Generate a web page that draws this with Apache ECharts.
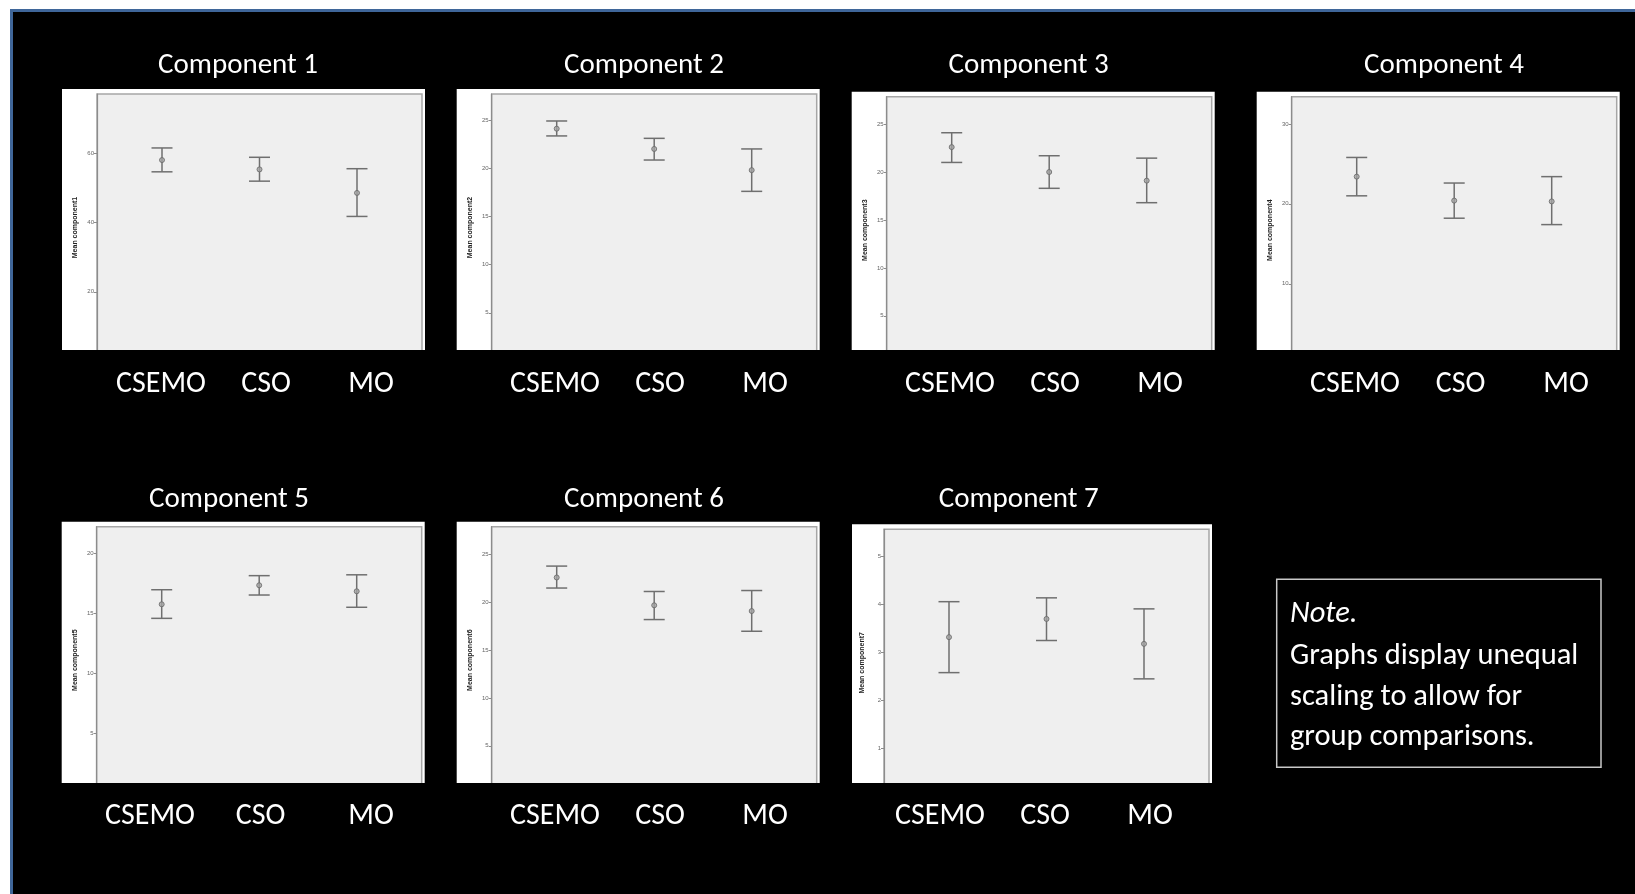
<!DOCTYPE html>
<html>
<head>
<meta charset="utf-8">
<title>Component means by group</title>
<script src="https://cdn.jsdelivr.net/npm/echarts@6.0.0/dist/echarts.min.js"></script>
<style>
  html, body { margin: 0; padding: 0; background: #ffffff; }
  #chart { width: 1635px; height: 894px; }
</style>
</head>
<body>
<div id="chart"></div>
<script>
// ---- data ----
const categories = ['CSEMO', 'CSO', 'MO'];
const componentTitles = ['Component 1', 'Component 2', 'Component 3', 'Component 4',
                         'Component 5', 'Component 6', 'Component 7'];
const axisNames = ['Mean component1', 'Mean component2', 'Mean component3', 'Mean component4',
                   'Mean component5', 'Mean component6', 'Mean component7'];

// group means and 95% CI bounds, one array per component (order: CSEMO, CSO, MO)
const means1 = [58.1, 55.4, 48.6];
const lower1 = [54.7, 52.0, 41.8];
const upper1 = [61.6, 58.9, 55.6];

const means2 = [24.1, 22.0, 19.8];
const lower2 = [23.35, 20.85, 17.6];
const upper2 = [24.9, 23.1, 22.0];

const means3 = [22.6, 20.0, 19.1];
const lower3 = [21.0, 18.3, 16.8];
const upper3 = [24.1, 21.7, 21.45];

const means4 = [23.4, 20.4, 20.3];
const lower4 = [21.0, 18.2, 17.4];
const upper4 = [25.8, 22.6, 23.4];

const means5 = [15.75, 17.33, 16.83];
const lower5 = [14.58, 16.52, 15.5];
const upper5 = [16.96, 18.13, 18.2];

const means6 = [22.56, 19.66, 19.06];
const lower6 = [21.46, 18.17, 16.95];
const upper6 = [23.75, 21.1, 21.2];

const means7 = [3.32, 3.70, 3.18];
const lower7 = [2.58, 3.25, 2.45];
const upper7 = [4.06, 4.14, 3.91];

// y-axis range top and tick step for each component (axes start at 0)
const axisMax = [77.2, 27.7, 27.86, 33.4, 22.2, 27.86, 5.57];
const axisStep = [20, 5, 5, 10, 5, 5, 1];

const noteLines = ['Note.', 'Graphs display unequal', 'scaling to allow for', 'group comparisons.'];

// ---- layout ----
const allMeans = [means1, means2, means3, means4, means5, means6, means7];
const allLower = [lower1, lower2, lower3, lower4, lower5, lower6, lower7];
const allUpper = [upper1, upper2, upper3, upper4, upper5, upper6, upper7];

const PLOT_W = 325, PLOT_H = 267;
const panels = [
  { left: 97,    top: 94,    cut: 350, padL: 35, titleX: 238,    titleY: 65.5,  labY: 384, labA: 161, labB: 371 },
  { left: 491.7, top: 94,    cut: 350, padL: 35, titleX: 644,    titleY: 65.5,  labY: 384, labA: 555, labB: 765 },
  { left: 886.7, top: 96.7,  cut: 350, padL: 35, titleX: 1028.6, titleY: 65.5,  labY: 384, labA: 950, labB: 1160 },
  { left: 1291.7,top: 96.7,  cut: 350, padL: 35, titleX: 1444,   titleY: 65.5,  labY: 384, labA: 1355, labB: 1566 },
  { left: 96.7,  top: 526.7, cut: 783, padL: 35, titleX: 229,    titleY: 499.5, labY: 816, labA: 150, labB: 371 },
  { left: 491.7, top: 526.7, cut: 783, padL: 35, titleX: 644,    titleY: 499.5, labY: 816, labA: 555, labB: 765 },
  { left: 884,   top: 529.3, cut: 783, padL: 32, titleX: 1018.7, titleY: 499.5, labY: 816, labA: 940, labB: 1150 }
];

const FONT = 'Carlito, Calibri, Lato, sans-serif';

const grid = [], xAxis = [], yAxis = [], series = [], graphics = [];

// black slide background with blue frame
graphics.push({
  type: 'rect', z: -20,
  shape: { x: 11.5, y: 10.5, width: 1660, height: 920 },
  style: { fill: '#000000', stroke: '#3f6699', lineWidth: 3 }
});

panels.forEach((p, i) => {
  // white panel behind the plot
  graphics.push({
    type: 'rect', z: -10,
    shape: { x: p.left - p.padL, y: p.top - 5, width: PLOT_W + p.padL + 3, height: p.cut - (p.top - 5) },
    style: { fill: '#ffffff' }
  });
  // panel title
  graphics.push({
    type: 'text', z: 60, x: p.titleX, y: p.titleY,
    style: { text: componentTitles[i], fill: '#ffffff', font: '29px ' + FONT, align: 'center', verticalAlign: 'middle' }
  });

  // plot grid
  grid.push({
    left: p.left, top: p.top, width: PLOT_W, height: PLOT_H,
    show: true, backgroundColor: '#efefef', borderColor: '#a6a6a6', borderWidth: 1.5
  });
  const gi = grid.length - 1;
  xAxis.push({ gridIndex: gi, type: 'value', min: 1 / 3, max: 11 / 3, show: false });
  yAxis.push({
    gridIndex: gi, type: 'value', min: 0, max: axisMax[i], interval: axisStep[i],
    name: axisNames[i], nameLocation: 'middle', nameGap: 18, nameRotate: 90,
    nameTextStyle: { fontSize: 7, fontWeight: 'bold', color: '#222', fontFamily: 'Arial, Liberation Sans, sans-serif' },
    axisLine: { show: true, lineStyle: { color: '#8c8c8c', width: 1.2 } },
    axisTick: { show: true, length: 3, lineStyle: { color: '#8c8c8c' } },
    axisLabel: { fontSize: 6, color: '#666', margin: 3, showMaxLabel: false, fontFamily: 'Arial, Liberation Sans, sans-serif' },
    splitLine: { show: false }
  });

  const means = allMeans[i], lo = allLower[i], hi = allUpper[i];
  const barData = categories.map((c, k) => [k + 1, means[k], lo[k], hi[k]]);
  const meanData = categories.map((c, k) => [k + 1, means[k]]);

  series.push({
    type: 'custom', xAxisIndex: gi, yAxisIndex: gi, z: 3,
    data: barData,
    encode: { x: 0, y: [2, 3] },
    renderItem: function (params, api) {
      const x = api.value(0);
      const pLo = api.coord([x, api.value(2)]);
      const pHi = api.coord([x, api.value(3)]);
      const half = 10.5;
      const st = { stroke: '#6f6f6f', lineWidth: 1.5 };
      return {
        type: 'group',
        children: [
          { type: 'line', shape: { x1: pLo[0], y1: pLo[1], x2: pHi[0], y2: pHi[1] }, style: st },
          { type: 'line', shape: { x1: pHi[0] - half, y1: pHi[1], x2: pHi[0] + half, y2: pHi[1] }, style: st },
          { type: 'line', shape: { x1: pLo[0] - half, y1: pLo[1], x2: pLo[0] + half, y2: pLo[1] }, style: st }
        ]
      };
    }
  });
  series.push({
    type: 'scatter', xAxisIndex: gi, yAxisIndex: gi, z: 4,
    data: meanData, symbol: 'circle', symbolSize: 5,
    itemStyle: { color: '#a3a3a3', borderColor: '#666', borderWidth: 1 }
  });

  // group labels under each panel
  const step = (p.labB - p.labA) / 2;
  grid.push({ left: p.labA - step / 2, top: p.cut, width: step * 3, height: 1, show: false });
  const li = grid.length - 1;
  xAxis.push({
    gridIndex: li, type: 'category', data: categories, z: 100,
    axisLine: { show: false }, axisTick: { show: false },
    axisLabel: { interval: 0, hideOverlap: false, color: '#ffffff', fontSize: 30, fontFamily: FONT,
                 margin: p.labY - (p.cut + 1), verticalAlign: 'middle' }
  });
  yAxis.push({ gridIndex: li, type: 'value', show: false });
});

// black band hiding the lower end of each axis
graphics.push({ type: 'rect', z: 50, shape: { x: 40, y: 350, width: 1600, height: 18 }, style: { fill: '#000000' } });
graphics.push({ type: 'rect', z: 50, shape: { x: 40, y: 783, width: 1600, height: 18 }, style: { fill: '#000000' } });

// note box
graphics.push({
  type: 'rect', z: 60,
  shape: { x: 1276.7, y: 579.3, width: 324.3, height: 188 },
  style: { fill: 'none', stroke: '#c8c8c8', lineWidth: 1.5 }
});
const noteY = [614, 656, 697, 737];
noteLines.forEach((t, k) => {
  graphics.push({
    type: 'text', z: 60, x: 1290, y: noteY[k],
    style: {
      text: t, fill: '#ffffff', align: 'left', verticalAlign: 'middle',
      font: (k === 0 ? 'italic ' : '') + '30.5px ' + FONT
    }
  });
});

const chart = echarts.init(document.getElementById('chart'), null, { renderer: 'canvas' });
chart.setOption({
  animation: false,
  backgroundColor: '#ffffff',
  grid: grid,
  xAxis: xAxis,
  yAxis: yAxis,
  series: series,
  graphic: { elements: graphics }
});
</script>
</body>
</html>
